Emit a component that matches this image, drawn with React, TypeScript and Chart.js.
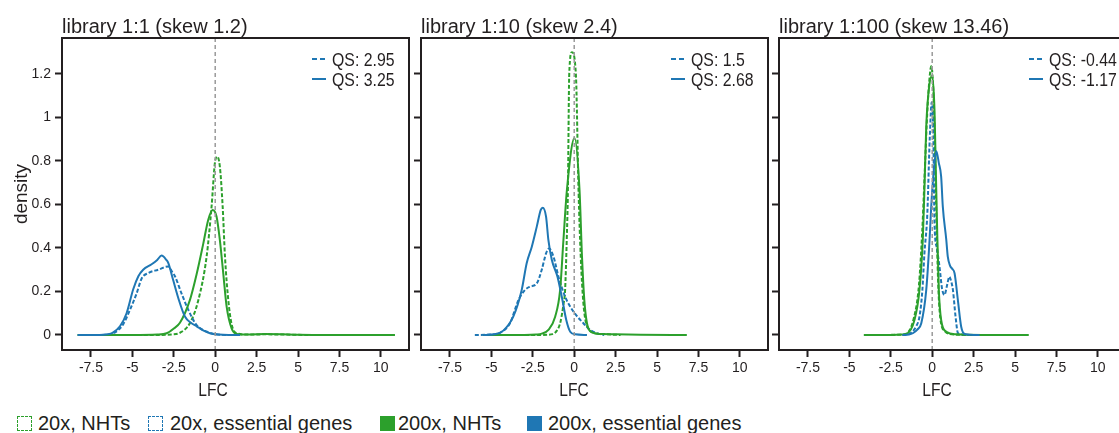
import React, { useEffect, useRef } from "react";
import { Chart, registerables } from "chart.js";

Chart.register(...registerables);

const GREEN = "#2ca02c";
const BLUE = "#1f77b4";
const INK = "#231f20";

// ---------- axes ----------
const xTicks = [-7.5, -5, -2.5, 0, 2.5, 5, 7.5, 10];
const yTicks = [0, 0.2, 0.4, 0.6, 0.8, 1, 1.2];
const xRange = [-9.25, 11.7];
const yRange = [-0.069, 1.365];

// ---------- texts ----------
const panelTitles = ["library 1:1 (skew 1.2)", "library 1:10 (skew 2.4)", "library 1:100 (skew 13.46)"];
const qsDashed = ["2.95", "1.5", "-0.44"];
const qsSolid = ["3.25", "2.68", "-1.17"];
const legendLabels = ["20x, NHTs", "20x, essential genes", "200x, NHTs", "200x, essential genes"];

// ---------- data: [LFC, density] ----------
// library 1:1
const lib1_nht20: [number, number][] = [
  [-8.3, 0], [-4, 0], [-2.5, 0.003], [-2.13, 0.01], [-1.53, 0.054], [-1.02, 0.16], [-0.52, 0.36],
  [-0.22, 0.59], [-0.02, 0.79], [0.12, 0.82], [0.28, 0.774], [0.45, 0.59], [0.59, 0.36], [0.79, 0.16],
  [0.99, 0.05], [1.29, 0.008], [2, 0.002], [3, 0.003], [4, 0.002], [6, 0], [10.85, 0],
];
const lib1_ess20: [number, number][] = [
  [-8.3, 0], [-7, 0], [-6.3, 0.004], [-5.9, 0.02], [-5.55, 0.05], [-5.15, 0.115], [-4.75, 0.19],
  [-4.44, 0.26], [-4.04, 0.285], [-3.44, 0.3], [-2.84, 0.315], [-2.6, 0.29], [-2.43, 0.27],
  [-2.03, 0.19], [-1.62, 0.115], [-1.12, 0.045], [-0.5, 0.015], [0, 0.004], [0.7, 0], [1.5, 0],
];
const lib1_nht200: [number, number][] = [
  [-8.3, 0], [-5, 0], [-3.5, 0.002], [-2.93, 0.008], [-2.5, 0.03], [-2.13, 0.056], [-1.53, 0.16],
  [-1.12, 0.28], [-0.72, 0.42], [-0.42, 0.53], [-0.16, 0.575], [0.08, 0.545], [0.28, 0.437],
  [0.49, 0.28], [0.69, 0.13], [0.99, 0.03], [1.29, 0.005], [2, 0.002], [3, 0.004], [4, 0.003],
  [5, 0.001], [7, 0], [10.85, 0],
];
const lib1_ess200: [number, number][] = [
  [-8.3, 0], [-7, 0], [-6.5, 0.003], [-6.2, 0.01], [-5.75, 0.04], [-5.35, 0.1], [-4.95, 0.21],
  [-4.64, 0.27], [-4.35, 0.3], [-3.84, 0.325], [-3.5, 0.345], [-3.24, 0.365], [-2.95, 0.345],
  [-2.83, 0.33], [-2.53, 0.25], [-2.23, 0.17], [-1.83, 0.085], [-1.45, 0.055], [-1.12, 0.04],
  [-0.7, 0.02], [-0.32, 0.008], [0.2, 0.002], [0.8, 0], [1.5, 0],
];

// library 1:10
const lib10_nht20: [number, number][] = [
  [-5.5, 0], [-2, 0], [-1.3, 0.004], [-1.05, 0.02], [-0.85, 0.054], [-0.65, 0.14], [-0.55, 0.207],
  [-0.45, 0.44], [-0.38, 0.667], [-0.3, 1.2], [-0.14, 1.3], [0.1, 1.2], [0.26, 0.667], [0.4, 0.35],
  [0.55, 0.15], [0.7, 0.06], [0.9, 0.025], [1.2, 0.01], [1.8, 0.004], [2.8, 0],
];
const lib10_ess20: [number, number][] = [
  [-6, 0], [-5, 0.002], [-4.48, 0.01], [-3.88, 0.054], [-3.37, 0.16], [-2.97, 0.207], [-2.67, 0.222],
  [-2.26, 0.237], [-1.96, 0.3], [-1.7, 0.375], [-1.52, 0.398], [-1.25, 0.36], [-0.95, 0.268],
  [-0.55, 0.176], [-0.04, 0.107], [0.47, 0.061], [0.97, 0.023], [1.5, 0.005], [1.8, 0],
];
const lib10_nht200: [number, number][] = [
  [-5.5, 0], [-3, 0], [-2.3, 0.002], [-1.96, 0.006], [-1.56, 0.023], [-1.15, 0.084], [-0.85, 0.207],
  [-0.65, 0.437], [-0.44, 0.667], [0.02, 0.905], [0.32, 0.667], [0.47, 0.36], [0.61, 0.16],
  [0.77, 0.054], [1.07, 0.012], [1.6, 0.004], [2.5, 0.003], [4, 0.001], [6.8, 0],
];
const lib10_ess200: [number, number][] = [
  [-5.5, 0], [-4.8, 0.003], [-4.28, 0.02], [-3.68, 0.084], [-3.17, 0.207], [-2.87, 0.33],
  [-2.56, 0.406], [-2.26, 0.498], [-2.02, 0.575], [-1.9, 0.585], [-1.7, 0.544], [-1.56, 0.437],
  [-1.35, 0.345], [-1.01, 0.268], [-0.75, 0.176], [-0.48, 0.069], [-0.24, 0.015], [0.06, 0.003],
  [0.77, 0],
];

// library 1:100
const lib100_nht20: [number, number][] = [
  [-3.2, 0], [-2, 0.001], [-1.6, 0.005], [-1.1, 0.08], [-0.8, 0.23], [-0.6, 0.48], [-0.45, 0.75],
  [-0.3, 1.02], [-0.15, 1.19], [-0.06, 1.235], [0.08, 1.1], [0.18, 0.8], [0.28, 0.45], [0.38, 0.2],
  [0.52, 0.06], [0.8, 0.015], [1.2, 0.003], [2.5, 0], [4.25, 0],
];
const lib100_ess20: [number, number][] = [
  [-1.8, 0], [-1.5, 0.003], [-1.27, 0.01], [-0.97, 0.04], [-0.77, 0.084], [-0.6, 0.2], [-0.47, 0.375],
  [-0.3, 0.55], [-0.15, 0.9], [-0.03, 1.07], [0.06, 0.95], [0.14, 0.51], [0.28, 0.4], [0.44, 0.314],
  [0.6, 0.21], [0.74, 0.184], [0.9, 0.23], [1.04, 0.268], [1.15, 0.245], [1.25, 0.207],
  [1.41, 0.084], [1.55, 0.01], [1.8, 0.002], [2.5, 0],
];
const lib100_nht200: [number, number][] = [
  [-4.13, 0], [-2.5, 0], [-1.9, 0.002], [-1.57, 0.005], [-1.07, 0.069], [-0.77, 0.207],
  [-0.57, 0.437], [-0.47, 0.667], [-0.36, 0.958], [-0.16, 1.157], [0, 1.19], [0.14, 1.03],
  [0.22, 0.75], [0.3, 0.48], [0.4, 0.207], [0.54, 0.069], [0.85, 0.015], [1.45, 0.003], [3, 0],
  [5.83, 0],
];
const lib100_ess200: [number, number][] = [
  [-1.8, 0], [-1.4, 0.002], [-1.17, 0.008], [-0.9, 0.025], [-0.66, 0.054], [-0.36, 0.207],
  [-0.16, 0.437], [-0.06, 0.59], [0.1, 0.76], [0.25, 0.845], [0.4, 0.79], [0.54, 0.728],
  [0.64, 0.59], [0.85, 0.437], [0.94, 0.36], [1.08, 0.318], [1.2, 0.305], [1.35, 0.284],
  [1.55, 0.16], [1.75, 0.038], [1.96, 0.005], [2.86, 0],
];

const panelData = [
  { nht20: lib1_nht20, ess20: lib1_ess20, nht200: lib1_nht200, ess200: lib1_ess200 },
  { nht20: lib10_nht20, ess20: lib10_ess20, nht200: lib10_nht200, ess200: lib10_ess200 },
  { nht20: lib100_nht20, ess20: lib100_ess20, nht200: lib100_nht200, ess200: lib100_ess200 },
];

// ---------- layout (pixels) ----------
const CANVAS_H = 385;
const PLOT_TOP = 38;
const XAXIS_H = 35;
const layout = [
  { canvasLeft: 0, canvasWidth: 412, axisW: 62, showY: true, lfcX: 213, legX: 312 },
  { canvasLeft: 410, canvasWidth: 361, axisW: 11, showY: false, lfcX: 574, legX: 671 },
  { canvasLeft: 768, canvasWidth: 361, axisW: 11, showY: false, lfcX: 937, legX: 1029 },
];

const TICK_FONT = { family: "'Liberation Sans Narrow', 'Liberation Sans', Arial, sans-serif", size: 14 };

const boxPlugin = {
  id: "plotBox",
  afterDraw(chart: any) {
    const { ctx, chartArea } = chart;
    const { left, top, right, bottom } = chartArea;
    ctx.save();
    ctx.strokeStyle = INK;
    ctx.lineWidth = 2;
    ctx.strokeRect(left, top, right - left, bottom - top);
    ctx.restore();
  },
};

const toXY = (arr: [number, number][]) => arr.map(([x, y]) => ({ x, y }));

function curve(data: [number, number][], color: string, dashed: boolean, order: number) {
  return {
    data: toXY(data),
    borderColor: color,
    backgroundColor: color,
    borderWidth: 2,
    borderDash: dashed ? [4, 2] : [],
    pointRadius: 0,
    fill: false,
    cubicInterpolationMode: "monotone",
    order,
  };
}

function makeChart(canvas: HTMLCanvasElement, idx: number) {
  const d = panelData[idx];
  const L = layout[idx];
  return new Chart(canvas, {
    type: "line",
    data: {
      datasets: [
        {
          data: [{ x: 0, y: yRange[0] }, { x: 0, y: yRange[1] }],
          borderColor: "#9a9a9a",
          borderWidth: 1.5,
          borderDash: [4, 3],
          pointRadius: 0,
          tension: 0,
          order: 0,
        },
        curve(d.ess200, BLUE, false, 1),
        curve(d.nht200, GREEN, false, 2),
        curve(d.ess20, BLUE, true, 3),
        curve(d.nht20, GREEN, true, 4),
      ] as any,
    },
    options: {
      responsive: false,
      animation: false,
      devicePixelRatio: 1,
      layout: { padding: { left: 0, right: 3, top: PLOT_TOP, bottom: 0 } },
      plugins: { legend: { display: false }, tooltip: { enabled: false }, title: { display: false } },
      events: [],
      scales: {
        x: {
          type: "linear",
          min: xRange[0],
          max: xRange[1],
          afterBuildTicks: (s: any) => {
            s.ticks = xTicks.map((v) => ({ value: v }));
          },
          afterFit: (s: any) => {
            s.height = XAXIS_H;
          },
          grid: { drawOnChartArea: false, drawTicks: true, tickLength: 7, tickWidth: 2, tickColor: INK },
          border: { display: false },
          ticks: {
            font: TICK_FONT,
            color: INK,
            padding: 3,
            maxRotation: 0,
            autoSkip: false,
            callback: (v: any) => String(v),
          },
        },
        y: {
          type: "linear",
          min: yRange[0],
          max: yRange[1],
          afterBuildTicks: (s: any) => {
            s.ticks = yTicks.map((v) => ({ value: v }));
          },
          afterFit: (s: any) => {
            s.width = L.axisW;
          },
          grid: { drawOnChartArea: false, drawTicks: true, tickLength: 7, tickWidth: 2, tickColor: INK },
          border: { display: false },
          ticks: {
            font: TICK_FONT,
            color: INK,
            padding: 4,
            autoSkip: false,
            callback: (v: any) => (L.showY ? String(v) : ""),
          },
        },
      },
    } as any,
    plugins: [boxPlugin],
  });
}

function LegendLine({ dashed }: { dashed: boolean }) {
  return (
    <svg width={14} height={4} style={{ display: "block" }}>
      <line
        x1={0}
        y1={2}
        x2={14}
        y2={2}
        stroke={BLUE}
        strokeWidth={2}
        strokeDasharray={dashed ? "5,3" : undefined}
      />
    </svg>
  );
}

export default function App() {
  const refs = [useRef<HTMLCanvasElement>(null), useRef<HTMLCanvasElement>(null), useRef<HTMLCanvasElement>(null)];

  useEffect(() => {
    const charts = refs.map((r, i) => makeChart(r.current as HTMLCanvasElement, i));
    return () => charts.forEach((c) => c.destroy());
  }, []);

  const font = "'Liberation Sans', Arial, Helvetica, sans-serif";
  const legendPos = [
    { box: 17, text: 38 },
    { box: 148, text: 170 },
    { box: 380, text: 398 },
    { box: 527, text: 548 },
  ];
  const legendStyle = [
    { color: GREEN, dashed: true },
    { color: BLUE, dashed: true },
    { color: GREEN, dashed: false },
    { color: BLUE, dashed: false },
  ];

  return (
    <div
      style={{
        position: "fixed",
        left: 0,
        top: 0,
        width: 1119,
        height: 433,
        overflow: "hidden",
        background: "#fff",
        fontFamily: font,
        color: INK,
      }}
    >
      {layout.map((L, i) => (
        <canvas
          key={"c" + i}
          ref={refs[i]}
          width={L.canvasWidth}
          height={CANVAS_H}
          style={{ position: "absolute", left: L.canvasLeft, top: 0, width: L.canvasWidth, height: CANVAS_H }}
        />
      ))}

      {layout.map((L, i) => (
        <div
          key={"t" + i}
          style={{
            position: "absolute",
            left: L.canvasLeft + L.axisW,
            top: 16,
            fontSize: 20,
            lineHeight: "20px",
            whiteSpace: "nowrap",
          }}
        >
          {panelTitles[i]}
        </div>
      ))}

      {layout.map((L, i) => (
        <div
          key={"l" + i}
          style={{
            position: "absolute",
            left: L.lfcX,
            top: 380,
            fontSize: 19,
            lineHeight: "19px",
            whiteSpace: "nowrap",
            transform: "translateX(-50%) scaleX(0.82)",
          }}
        >
          LFC
        </div>
      ))}

      {layout.map((L, i) => (
        <React.Fragment key={"q" + i}>
          {[qsDashed[i], qsSolid[i]].map((q, j) => (
            <div
              key={j}
              style={{ position: "absolute", left: L.legX, top: 51 + j * 20, height: 18, whiteSpace: "nowrap" }}
            >
              <div style={{ position: "absolute", left: 0, top: 6 }}>
                <LegendLine dashed={j === 0} />
              </div>
              <div
                style={{
                  position: "absolute",
                  left: 20,
                  top: 0,
                  fontSize: 18,
                  lineHeight: "18px",
                  transform: "scaleX(0.88)",
                  transformOrigin: "left center",
                }}
              >
                {"QS: " + q}
              </div>
            </div>
          ))}
        </React.Fragment>
      ))}

      <div
        style={{
          position: "absolute",
          left: 20,
          top: 194,
          fontSize: 19,
          lineHeight: "19px",
          whiteSpace: "nowrap",
          transform: "translate(-50%, -50%) rotate(-90deg)",
        }}
      >
        density
      </div>

      {legendLabels.map((lab, i) => (
        <React.Fragment key={"lg" + i}>
          <div
            style={{
              position: "absolute",
              left: legendPos[i].box,
              top: 416,
              width: 15,
              height: 15,
              boxSizing: "border-box",
              border: legendStyle[i].dashed ? `1.5px dashed ${legendStyle[i].color}` : "none",
              background: legendStyle[i].dashed ? "#fff" : legendStyle[i].color,
            }}
          />
          <div
            style={{
              position: "absolute",
              left: legendPos[i].text,
              top: 413,
              fontSize: 20,
              lineHeight: "20px",
              whiteSpace: "nowrap",
            }}
          >
            {lab}
          </div>
        </React.Fragment>
      ))}
    </div>
  );
}
